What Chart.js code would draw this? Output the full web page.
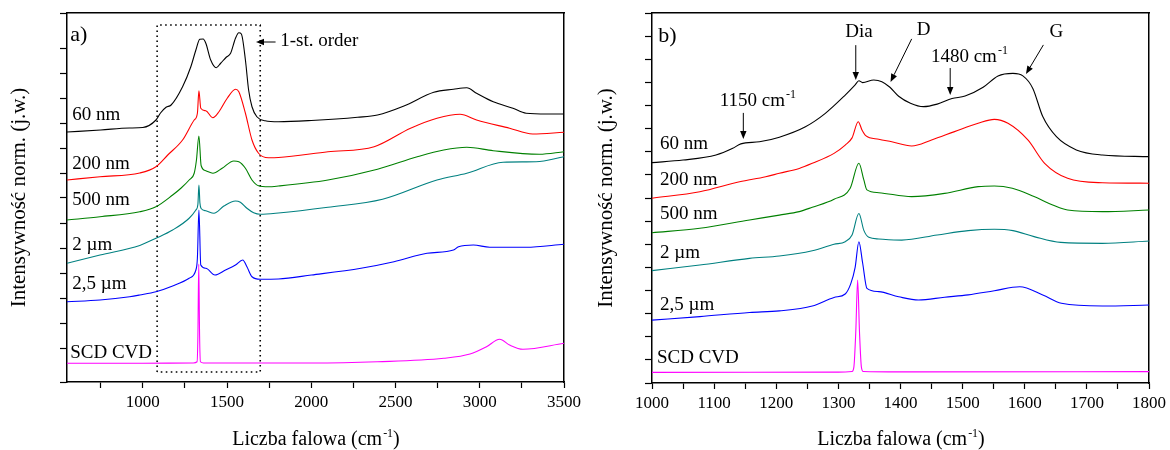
<!DOCTYPE html>
<html>
<head>
<meta charset="utf-8">
<script src="https://cdn.jsdelivr.net/npm/chart.js@4.4.1/dist/chart.umd.min.js"></script>
<style>
  html, body { margin: 0; padding: 0; background: #fff; }
  #wrap { position: relative; width: 1170px; height: 450px; }
  .panel { position: absolute; top: 0; width: 585px; height: 450px; }
  #panelA { left: 0; }
  #panelB { left: 585px; }
</style>
</head>
<body>
<div id="wrap">
  <div class="panel" id="panelA"><canvas id="chartA"></canvas></div>
  <div class="panel" id="panelB"><canvas id="chartB"></canvas></div>
</div>
<script>
// ---- panel a) full range spectra (wavenumber, normalised intensity + offset) ----
const waveA_60nm = [550, 750, 920, 1000, 1078, 1105, 1138, 1168, 1236, 1285, 1315, 1338, 1358, 1374, 1403, 1436, 1462, 1495, 1521, 1550, 1570, 1585, 1609, 1628, 1648, 1677, 1726, 1805, 2000, 2275, 2393, 2550, 2727, 2844, 2923, 2981, 3080, 3197, 3275, 3400, 3500];
const intA_60nm  = [9.64, 9.72, 9.8, 9.82, 10.12, 10.4, 10.63, 10.72, 11.45, 12.25, 12.92, 13.35, 13.36, 13.19, 12.52, 12.21, 12.39, 12.63, 12.79, 13.39, 13.61, 13.56, 12.52, 11.32, 10.65, 10.25, 10.09, 10.05, 10.1, 10.23, 10.32, 10.68, 11.23, 11.35, 11.41, 11.19, 10.85, 10.59, 10.39, 10.36, 10.36];

const waveA_200nm = [550, 746, 982, 1078, 1148, 1236, 1305, 1324, 1333, 1344, 1374, 1416, 1452, 1501, 1550, 1570, 1609, 1648, 1687, 1746, 1805, 2099, 2373, 2589, 2746, 2883, 2981, 3177, 3314, 3500];
const intA_200nm  = [7.72, 7.85, 8.0, 8.25, 8.72, 9.32, 10.12, 10.39, 11.29, 10.59, 10.49, 10.21, 10.45, 10.99, 11.35, 11.25, 10.39, 9.32, 8.79, 8.61, 8.62, 8.85, 9.05, 9.79, 10.19, 10.35, 10.12, 9.79, 9.56, 9.63];

const waveA_500nm = [550, 746, 982, 1078, 1177, 1226, 1275, 1305, 1318, 1333, 1346, 1374, 1416, 1471, 1540, 1570, 1609, 1648, 1687, 1746, 1805, 2099, 2393, 2629, 2786, 2923, 3080, 3354, 3500];
const intA_500nm  = [6.12, 6.25, 6.45, 6.65, 7.12, 7.39, 7.72, 7.99, 8.5, 9.48, 8.3, 8.09, 7.99, 8.19, 8.48, 8.45, 8.19, 7.72, 7.49, 7.45, 7.48, 7.72, 8.15, 8.65, 8.92, 9.03, 8.89, 8.75, 8.85];

const waveA_2um = [550, 746, 982, 1078, 1177, 1275, 1315, 1327, 1333, 1339, 1346, 1374, 1422, 1481, 1550, 1579, 1618, 1658, 1697, 1805, 2099, 2423, 2746, 2923, 3138, 3334, 3500];
const intA_2um  = [4.39, 4.72, 5.1, 5.39, 5.72, 6.19, 6.52, 6.75, 7.52, 6.8, 6.58, 6.49, 6.39, 6.68, 6.88, 6.83, 6.59, 6.41, 6.35, 6.4, 6.63, 6.95, 7.72, 7.99, 8.43, 8.45, 8.65];

const waveA_25um = [550, 746, 922, 982, 1078, 1177, 1275, 1315, 1324, 1333, 1344, 1374, 1428, 1491, 1550, 1593, 1618, 1648, 1697, 1805, 2001, 2295, 2491, 2687, 2844, 2874, 2962, 3059, 3275, 3500];
const intA_25um  = [2.85, 2.92, 3.05, 3.12, 3.25, 3.48, 3.79, 4.12, 4.6, 6.52, 4.32, 4.19, 3.92, 4.12, 4.32, 4.52, 4.25, 3.85, 3.75, 3.76, 3.92, 4.19, 4.45, 4.79, 4.92, 5.05, 5.12, 5.03, 5.03, 5.15];

const waveA_scd = [550, 1000, 1300, 1322, 1327, 1332, 1337, 1342, 1360, 2000, 2393, 2786, 2942, 3040, 3118, 3177, 3256, 3500];
const intA_scd  = [0.39, 0.39, 0.4, 0.45, 1.5, 4.36, 1.5, 0.45, 0.4, 0.4, 0.45, 0.59, 0.76, 1.05, 1.35, 1.12, 0.95, 1.19];

// dotted "1-st. order" frame
const boxWaveA = [1085, 1085, 1697, 1697, 1085];
const boxIntA  = [0.04, 13.92, 13.92, 0.04, 0.04];

const xTicksA  = [750, 1000, 1250, 1500, 1750, 2000, 2250, 2500, 2750, 3000, 3250, 3500];
const xLabelsA = [1000, 1500, 2000, 2500, 3000, 3500];

// ---- panel b) first-order region ----
const waveB_60nm = [1000, 1050, 1103, 1130, 1143, 1173, 1205, 1247, 1279, 1311, 1327, 1333, 1339, 1357, 1370, 1383, 1397, 1416, 1437, 1459, 1483, 1504, 1533, 1557, 1581, 1597, 1613, 1629, 1651, 1683, 1725, 1800];
const intB_60nm  = [9.53, 9.64, 9.86, 10.15, 10.34, 10.43, 10.63, 11.08, 11.66, 12.45, 12.89, 13.07, 12.99, 13.1, 13.03, 12.79, 12.4, 12.1, 11.95, 12.06, 12.3, 12.41, 12.79, 13.28, 13.39, 13.28, 12.74, 11.52, 10.65, 10.08, 9.86, 9.79];

const waveB_200nm = [1000, 1077, 1141, 1183, 1205, 1237, 1258, 1293, 1311, 1322, 1332, 1338, 1344, 1365, 1386, 1418, 1450, 1487, 1525, 1551, 1573, 1605, 1632, 1669, 1725, 1800];
const intB_200nm  = [7.99, 8.27, 8.7, 8.92, 9.07, 9.28, 9.5, 9.93, 10.29, 10.6, 11.3, 10.94, 10.7, 10.54, 10.43, 10.25, 10.51, 10.87, 11.23, 11.4, 11.23, 10.51, 9.5, 8.85, 8.66, 8.64];

const waveB_500nm = [1000, 1077, 1157, 1205, 1237, 1258, 1293, 1319, 1333, 1341, 1346, 1365, 1418, 1471, 1525, 1551, 1580, 1615, 1645, 1669, 1725, 1800];
const intB_500nm  = [6.5, 6.69, 7.05, 7.26, 7.41, 7.6, 7.95, 8.42, 9.5, 8.78, 8.35, 8.23, 8.06, 8.2, 8.49, 8.52, 8.42, 8.06, 7.7, 7.48, 7.41, 7.48];

const waveB_2um = [1000, 1077, 1157, 1205, 1258, 1293, 1311, 1322, 1333, 1341, 1349, 1365, 1402, 1459, 1509, 1551, 1581, 1615, 1658, 1725, 1800];
const intB_2um  = [4.86, 5.1, 5.39, 5.49, 5.72, 6.0, 6.11, 6.4, 7.33, 6.6, 6.3, 6.23, 6.18, 6.4, 6.59, 6.65, 6.59, 6.33, 6.08, 6.04, 6.14];

const waveB_25um = [1000, 1077, 1157, 1205, 1258, 1293, 1311, 1320, 1327, 1333, 1339, 1346, 1365, 1397, 1429, 1471, 1509, 1551, 1592, 1629, 1659, 1725, 1800];
const intB_25um  = [2.72, 2.87, 3.05, 3.12, 3.33, 3.7, 3.85, 4.3, 5.0, 6.11, 5.2, 4.09, 3.95, 3.73, 3.59, 3.71, 3.81, 3.99, 4.16, 3.81, 3.45, 3.33, 3.37];

const waveB_scd = [1000, 1300, 1322, 1325, 1328, 1331, 1334, 1337, 1340, 1400, 1800];
const intB_scd  = [0.46, 0.47, 0.5, 0.7, 2.2, 4.45, 2.2, 0.7, 0.5, 0.48, 0.49];

const xTicksB  = [1050, 1100, 1150, 1200, 1250, 1300, 1350, 1400, 1450, 1500, 1550, 1600, 1650, 1700, 1750, 1000, 1800];
const xLabelsB = [1000, 1100, 1200, 1300, 1400, 1500, 1600, 1700, 1800];

const sampleNames = ["60 nm", "200 nm", "500 nm", "2 \u00b5m", "2,5 \u00b5m", "SCD CVD"];

// ---- styling ----
const FONT = "'Liberation Serif', 'Times New Roman', serif";
const lineColors = ["#000000", "#ff0000", "#008000", "#008080", "#0000ff", "#ff00ff"];

function toPoints(xs, ys) {
    return xs.map((x, i) => ({ x: x, y: ys[i] }));
}

function spectrumSet(xs, ys, color) {
    return {
        data: toPoints(xs, ys),
        borderColor: color,
        borderWidth: 1.1,
        pointRadius: 0,
        fill: false,
        cubicInterpolationMode: "monotone"
    };
}

// text with an optional superscript part, e.g. cm^-1
function drawRichText(ctx, item, px, py) {
    const size = item.size || 19;
    const supSize = Math.round(size * 0.62);
    const mainFont = size + "px " + FONT;
    const smallFont = supSize + "px " + FONT;
    ctx.save();
    ctx.fillStyle = "#000";
    ctx.textAlign = "left";
    ctx.textBaseline = "alphabetic";
    ctx.font = mainFont;
    const w1 = ctx.measureText(item.text).width;
    const w3 = item.after ? ctx.measureText(item.after).width : 0;
    ctx.font = smallFont;
    const w2 = item.sup ? ctx.measureText(item.sup).width : 0;
    let x = item.align === "center" ? px - (w1 + w2 + w3) / 2 : px;
    ctx.font = mainFont;
    ctx.fillText(item.text, x, py);
    x += w1;
    if (item.sup) {
        ctx.font = smallFont;
        ctx.fillText(item.sup, x + 1, py - size * 0.42);
        x += w2 + 1;
        ctx.font = mainFont;
    }
    if (item.after) ctx.fillText(item.after, x, py);
    ctx.restore();
}

function drawArrow(ctx, x1, y1, x2, y2) {
    const ang = Math.atan2(y2 - y1, x2 - x1);
    const head = 8, half = 3.2;
    const bx = x2 - head * Math.cos(ang), by = y2 - head * Math.sin(ang);
    ctx.save();
    ctx.strokeStyle = "#000";
    ctx.fillStyle = "#000";
    ctx.lineWidth = 1;
    ctx.beginPath();
    ctx.moveTo(x1, y1);
    ctx.lineTo(bx, by);
    ctx.stroke();
    ctx.beginPath();
    ctx.moveTo(x2, y2);
    ctx.lineTo(bx + half * Math.sin(ang), by - half * Math.cos(ang));
    ctx.lineTo(bx - half * Math.sin(ang), by + half * Math.cos(ang));
    ctx.closePath();
    ctx.fill();
    ctx.restore();
}

// annotations positioned in data coordinates
const notesPlugin = {
    id: "notes",
    afterDraw(chart, args, opts) {
        const ctx = chart.ctx;
        const xs = chart.scales.x, ys = chart.scales.y;
        (opts.texts || []).forEach(t => {
            drawRichText(ctx, t, xs.getPixelForValue(t.x), ys.getPixelForValue(t.y));
        });
        (opts.arrows || []).forEach(a => {
            drawArrow(ctx, xs.getPixelForValue(a.from[0]), ys.getPixelForValue(a.from[1]),
                xs.getPixelForValue(a.to[0]), ys.getPixelForValue(a.to[1]));
        });
        // x axis title with superscript
        const area = chart.chartArea;
        drawRichText(ctx, { text: "Liczba falowa (cm", sup: "-1", after: ")", size: 20, align: "center" },
            (area.left + area.right) / 2, chart.height - 5);
    }
};

function axisBorder() {
    return { display: true, color: "#000", width: 1.5 };
}

function makeChart(canvasId, cfg) {
    const tickFont = { family: FONT, size: 17 };
    return new Chart(document.getElementById(canvasId), {
        type: "line",
        data: { datasets: cfg.datasets },
        plugins: [notesPlugin],
        options: {
            responsive: true,
            maintainAspectRatio: false,
            animation: false,
            layout: { padding: { top: 13, right: cfg.padRight, bottom: 0, left: 0 } },
            plugins: {
                legend: { display: false },
                tooltip: { enabled: false },
                notes: { texts: cfg.texts, arrows: cfg.arrows }
            },
            scales: {
                x: {
                    type: "linear",
                    position: "bottom",
                    min: cfg.xMin,
                    max: cfg.xMax,
                    afterBuildTicks: s => {
                        s.ticks = cfg.xTicks.slice().sort((a, b) => a - b).map(v => ({ value: v }));
                    },
                    ticks: {
                        autoSkip: false,
                        maxRotation: 0,
                        padding: 4,
                        color: "#000",
                        font: tickFont,
                        callback: v => (cfg.xLabels.includes(v) ? String(v) : "")
                    },
                    grid: { drawOnChartArea: false, drawTicks: true, tickLength: 6, tickColor: "#000", tickWidth: 1.2 },
                    border: axisBorder(),
                    afterFit: s => { s.height = cfg.xHeight; }
                },
                xTop: {
                    type: "linear",
                    position: "top",
                    min: cfg.xMin,
                    max: cfg.xMax,
                    ticks: { display: false },
                    grid: { display: false, drawTicks: false },
                    border: axisBorder(),
                    afterFit: s => { s.height = 0; }
                },
                y: {
                    type: "linear",
                    position: "left",
                    min: cfg.yMin,
                    max: cfg.yMax,
                    ticks: { stepSize: 1, autoSkip: false, callback: () => "" },
                    grid: { drawOnChartArea: false, drawTicks: true, tickLength: 7, tickColor: "#000", tickWidth: 1.2 },
                    border: axisBorder(),
                    title: {
                        display: true,
                        text: "Intensywno\u015b\u0107 norm. (j.w.)",
                        color: "#000",
                        font: { family: FONT, size: 21 },
                        padding: { top: cfg.yTitlePad, bottom: 0 }
                    },
                    afterFit: s => { s.width = 67; }
                },
                yRight: {
                    type: "linear",
                    position: "right",
                    min: cfg.yMin,
                    max: cfg.yMax,
                    ticks: { display: false },
                    grid: { display: false, drawTicks: false },
                    border: axisBorder(),
                    afterFit: s => { s.width = 0; }
                }
            }
        }
    });
}

// panel a)
const setsA = [
    spectrumSet(waveA_60nm, intA_60nm, lineColors[0]),
    spectrumSet(waveA_200nm, intA_200nm, lineColors[1]),
    spectrumSet(waveA_500nm, intA_500nm, lineColors[2]),
    spectrumSet(waveA_2um, intA_2um, lineColors[3]),
    spectrumSet(waveA_25um, intA_25um, lineColors[4]),
    spectrumSet(waveA_scd, intA_scd, lineColors[5]),
    {
        data: toPoints(boxWaveA, boxIntA),
        borderColor: "#000",
        borderWidth: 1.6,
        borderDash: [1.6, 3.4],
        pointRadius: 0,
        fill: false,
        tension: 0
    }
];

const labelYA = [10.14, 8.18, 6.72, 4.94, 3.38, 0.62];
makeChart("chartA", {
    datasets: setsA,
    xMin: 550, xMax: 3500, xTicks: xTicksA, xLabels: xLabelsA,
    yMin: -0.36, yMax: 14.4,
    padRight: 17, xHeight: 68, yTitlePad: 7,
    texts: [
        { text: "a)", x: 569, y: 13.28, size: 22 },
        { text: "1-st. order", x: 1816, y: 13.08 }
    ].concat(sampleNames.map((n, i) => ({ text: n, x: i === 5 ? 569 : 581, y: labelYA[i] }))),
    arrows: [
        { from: [1788, 13.24], to: [1672, 13.24] }
    ]
});

// panel b)
const setsB = [
    spectrumSet(waveB_60nm, intB_60nm, lineColors[0]),
    spectrumSet(waveB_200nm, intB_200nm, lineColors[1]),
    spectrumSet(waveB_500nm, intB_500nm, lineColors[2]),
    spectrumSet(waveB_2um, intB_2um, lineColors[3]),
    spectrumSet(waveB_25um, intB_25um, lineColors[4]),
    spectrumSet(waveB_scd, intB_scd, lineColors[5])
];

const labelYB = [10.12, 8.56, 7.09, 5.39, 3.16, 0.85];
makeChart("chartB", {
    datasets: setsB,
    xMin: 1000, xMax: 1800, xTicks: xTicksB, xLabels: xLabelsB,
    yMin: 0, yMax: 16,
    padRight: 18, xHeight: 67, yTitlePad: 9,
    texts: [
        { text: "b)", x: 1010, y: 14.75, size: 22 },
        { text: "Dia", x: 1333, y: 14.97, align: "center" },
        { text: "D", x: 1437, y: 15.05, align: "center" },
        { text: "G", x: 1651, y: 14.95, align: "center" },
        { text: "1480 cm", sup: "-1", x: 1449, y: 13.87 },
        { text: "1150 cm", sup: "-1", x: 1109, y: 11.98 }
    ].concat(sampleNames.map((n, i) => ({ text: n, x: i === 5 ? 1008 : 1013, y: labelYB[i] }))),
    arrows: [
        { from: [1328, 14.61], to: [1328, 13.1] },
        { from: [1418, 14.88], to: [1384, 13.02] },
        { from: [1480, 13.62], to: [1480, 12.45] },
        { from: [1630, 14.62], to: [1602, 13.36] },
        { from: [1147, 11.68], to: [1147, 10.55] }
    ]
});
</script>
</body>
</html>
